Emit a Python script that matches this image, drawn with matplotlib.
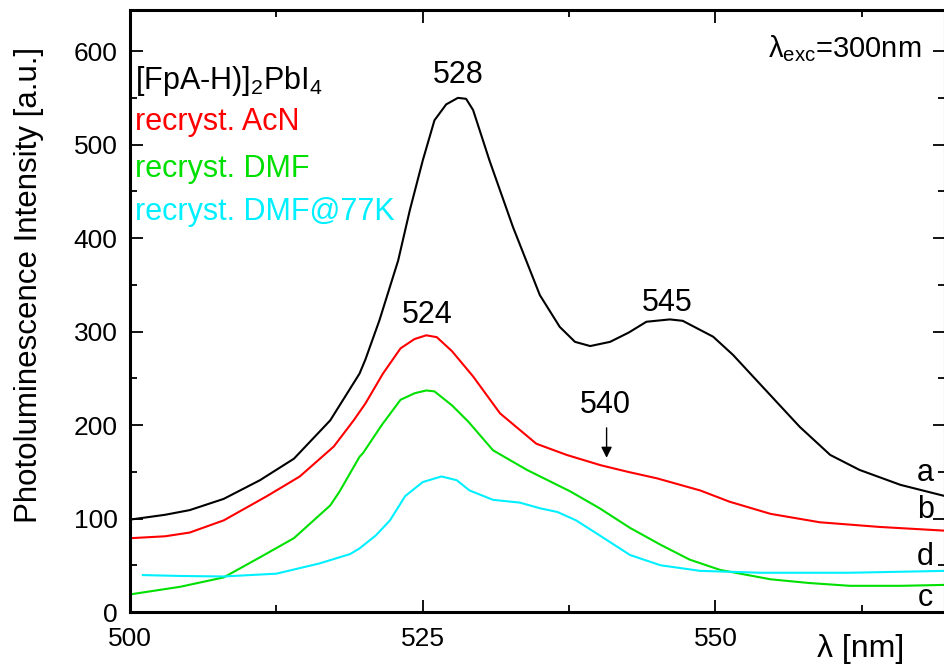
import numpy as np
import matplotlib
matplotlib.use("Agg")
import matplotlib.pyplot as plt
from matplotlib.ticker import MultipleLocator

plt.rcParams['font.family'] = ['Liberation Sans', 'DejaVu Sans']
plt.rcParams['mathtext.fontset'] = 'custom'
plt.rcParams['mathtext.rm'] = 'Liberation Sans'
plt.rcParams['mathtext.it'] = 'Liberation Sans:italic'

# spectra (wavelength nm, intensity a.u.)
wl_a = [500.1, 503.0, 505.1, 508.0, 511.1, 514.0, 517.1, 519.6, 520.1, 521.3, 522.9, 523.9,
        525.0, 526.0, 527.0, 528.0, 528.7, 529.3, 530.7, 532.7, 535.0, 536.7, 538.0, 539.3,
        541.0, 542.6, 544.1, 546.1, 547.2, 549.8, 551.5, 553.2, 555.2, 557.2, 559.8, 562.3,
        565.8, 569.6]
pl_a = [99, 104, 109, 121, 141, 164, 205, 255, 270, 312, 376, 430,
        483, 526, 543, 550, 549, 537, 483, 412, 339, 305, 289, 284.5,
        289, 299, 310.5, 313, 311.5, 294.5, 275, 252, 225, 198, 168, 152,
        136, 124]

wl_b = [500.1, 503.0, 505.1, 508.0, 511.7, 514.5, 517.4, 519.1, 520.1, 521.6, 523.1, 524.3,
        525.3, 526.2, 527.5, 529.3, 531.6, 534.7, 537.3, 540.2, 542.5, 545.0, 548.7, 551.2,
        554.7, 558.9, 564.0, 569.6]
pl_b = [79, 81, 85, 98, 124, 145, 177, 205, 223, 255, 282, 292,
        296, 294, 279, 252, 212.5, 180, 168, 157, 150, 143, 130, 118,
        105, 96, 91, 87]

wl_c = [500.1, 504.3, 508.0, 511.1, 514.0, 517.1, 517.9, 519.6, 519.9, 521.5, 523.1, 524.3,
        525.3, 526.0, 527.5, 528.9, 531.0, 533.9, 537.6, 540.1, 542.7, 545.3, 547.8, 550.4,
        554.7, 558.0, 561.5, 565.8, 569.6]
pl_c = [19, 27, 37, 58.5, 79, 114, 129, 166, 170, 200, 227, 234,
        237, 236, 221, 203.5, 173, 152, 129, 111, 90, 72, 56, 45,
        35, 31, 28, 28, 29]

wl_d = [501.1, 504.5, 508.0, 512.5, 516.2, 518.8, 519.6, 521.0, 522.2, 523.5, 525.0, 526.6,
        527.9, 529.0, 531.0, 533.3, 535.0, 536.5, 538.1, 540.1, 542.7, 545.3, 548.7, 553.8,
        561.5, 569.6]
pl_d = [39.5, 38.5, 38, 41, 52, 62, 68, 82, 98, 124, 139, 145,
        141, 130, 120, 117, 111, 107, 98, 82, 61, 50, 44, 42,
        42, 44]

series_labels = ['[FpA-H)]$_2$PbI$_4$', 'recryst. AcN', 'recryst. DMF', 'recryst. DMF@77K']
series_colors = ['black', '#ff0000', '#00e000', '#00f0ff']

fig = plt.figure(figsize=(9.44, 6.67), dpi=100)
ax = fig.add_axes([130 / 944, 55 / 667, 815 / 944, 602 / 667])

ax.plot(wl_a, pl_a, color=series_colors[0], lw=1.5)
ax.plot(wl_b, pl_b, color=series_colors[1], lw=1.5)
ax.plot(wl_c, pl_c, color=series_colors[2], lw=1.5)
ax.plot(wl_d, pl_d, color=series_colors[3], lw=1.5)

ax.set_xlim(500, 569.6)
ax.set_ylim(0, 644)
ax.xaxis.set_major_locator(MultipleLocator(25))
ax.xaxis.set_minor_locator(MultipleLocator(12.5))
ax.yaxis.set_major_locator(MultipleLocator(100))
ax.yaxis.set_minor_locator(MultipleLocator(50))
ax.tick_params(which='both', direction='in', top=True, right=True, width=1.3, labelsize=19)
ax.tick_params(which='major', length=9)
ax.tick_params(which='minor', length=5)
ax.tick_params(axis='x', pad=11)
ax.tick_params(axis='y', pad=9)
for s in ax.spines.values():
    s.set_linewidth(2.2)

ax.set_ylabel('Photoluminescence Intensity [a.u.]', fontsize=22.5)
ax.yaxis.set_label_coords(-0.106, 0.543)
ax.text(562.4, -40, 'λ [nm]', fontsize=23, ha='center', va='center')

# legend as coloured text
for i, y in enumerate([560, 515.5, 465, 419]):
    ax.text(500.4, y, series_labels[i], color=series_colors[i], fontsize=22, va='baseline')

ax.text(561.0, 603, 'λ$_{\\mathrm{exc}}$=300nm', fontsize=21, ha='center', va='center')

# peak labels
ax.text(528.0, 574, '528', fontsize=22, ha='center', va='center')
ax.text(525.4, 318, '524', fontsize=22, ha='center', va='center')
ax.text(545.9, 331, '545', fontsize=22, ha='center', va='center')
ax.text(540.6, 221, '540', fontsize=22, ha='center', va='center')
ax.annotate('', xy=(540.7, 162), xytext=(540.7, 200),
            arrowprops=dict(arrowstyle='-|>', color='black', lw=1, mutation_scale=16))

# curve letters
for letter, y in zip(['a', 'b', 'd', 'c'], [149, 109, 59, 15]):
    ax.text(567.9, y, letter, fontsize=22, ha='center', va='center')

fig.savefig('out.png', dpi=100)
